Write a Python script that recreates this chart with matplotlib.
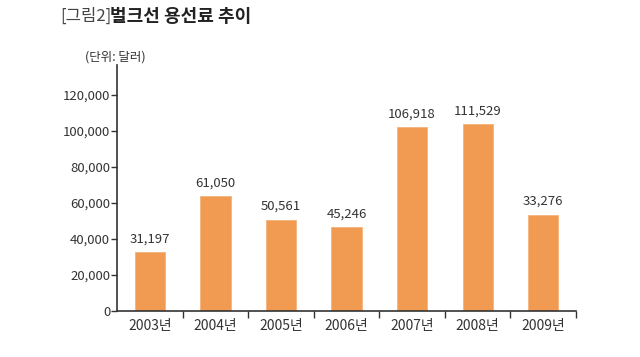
import matplotlib
matplotlib.use('Agg')
import matplotlib.pyplot as plt

plt.rcParams['font.family'] = ['Noto Sans CJK KR', 'DejaVu Sans']

# data (bar heights as drawn in the source, labels as printed)
years = ['2003년', '2004년', '2005년', '2006년', '2007년', '2008년', '2009년']
bar_heights = [32600, 63700, 50700, 46500, 102000, 103700, 53500]
bar_labels = ['31,197', '61,050', '50,561', '45,246', '106,918', '111,529', '33,276']
yticks = [0, 20000, 40000, 60000, 80000, 100000, 120000]

txt = '#333333'
orange = '#F09A52'

fig = plt.figure(figsize=(6.4, 3.57), dpi=100)
ax = fig.add_axes([0.183, 0.129, 0.717, 0.689])

x = list(range(len(years)))
bars = ax.bar(x, bar_heights, width=0.46, color=orange, edgecolor='#F6B27A', linewidth=0.6)

for b, lab in zip(bars, bar_labels):
    ax.annotate(lab, (b.get_x() + b.get_width() / 2, b.get_height()),
                xytext=(0, 5), textcoords='offset points',
                ha='center', va='bottom', fontsize=9.5, color=txt)

ax.set_xlim(-0.5, len(years) - 0.5)
ax.set_ylim(0, 136700)
ax.set_yticks(yticks)
ax.set_yticklabels(['{:,}'.format(v) for v in yticks])

# category boundary ticks below the axis, labels at centres
ax.set_xticks([i + 0.5 for i in x])
ax.set_xticklabels([])
ax.set_xticks(x, minor=True)
ax.set_xticklabels(years, minor=True)
ax.tick_params(axis='x', which='major', direction='out', length=5, width=1, color=txt)
ax.tick_params(axis='x', which='minor', length=0, pad=6, labelsize=10, labelcolor=txt)
ax.tick_params(axis='y', direction='out', length=4, width=1, color=txt, labelsize=9.5, labelcolor=txt, pad=1)

for s in ['top', 'right']:
    ax.spines[s].set_visible(False)
for s in ['left', 'bottom']:
    ax.spines[s].set_color(txt)
    ax.spines[s].set_linewidth(1.2)

fig.text(0.094, 0.955, '[그림2]', fontsize=12, color='#444444', va='center', ha='left')
fig.text(0.172, 0.955, '벌크선 용선료 추이', fontsize=13, fontweight='bold', color='#222222', va='center', ha='left')
fig.text(0.133, 0.84, '(단위: 달러)', fontsize=9, color=txt, va='center', ha='left')

fig.savefig('out.png', dpi=100)
